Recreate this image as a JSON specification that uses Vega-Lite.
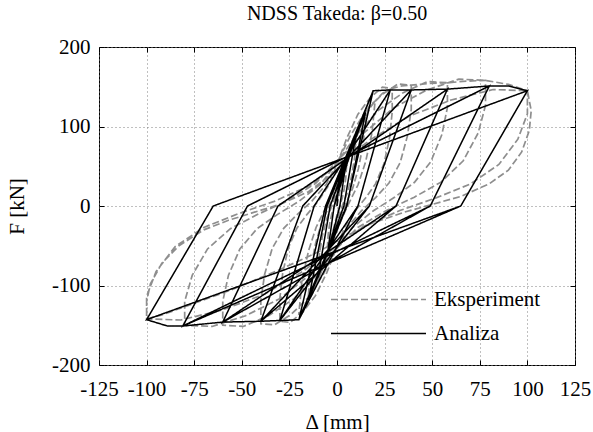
{
  "$schema": "https://vega.github.io/schema/vega-lite/v6.json",
  "width": 476,
  "height": 318,
  "autosize": "none",
  "padding": {"left": 99, "top": 47, "right": 18, "bottom": 67},
  "background": "white",
  "title": {"text": "NDSS Takeda: β=0.50", "font": "Times New Roman, Liberation Serif, DejaVu Serif, serif", "fontSize": 20, "fontWeight": "normal", "color": "black", "offset": 12, "anchor": "middle"},
  "config": {
    "view": {"stroke": "black", "strokeWidth": 1},
    "axis": {"labelFont": "Times New Roman, Liberation Serif, DejaVu Serif, serif", "labelFontSize": 21, "labelColor": "black", "labelOverlap": false, "labelFlush": false, "titleFont": "Times New Roman, Liberation Serif, DejaVu Serif, serif", "titleFontSize": 21, "titleFontWeight": "normal", "titleColor": "black", "domain": false, "tickColor": "black", "tickSize": -5, "gridColor": "#808080", "gridDash": [1, 3], "gridOpacity": 1},
    "legend": {"orient": "none", "legendX": 269, "legendY": 242, "padding": 0, "symbolType": "M-5,0L5,0", "symbolSize": 361, "symbolStrokeWidth": 1.6, "labelFont": "Times New Roman, Liberation Serif, DejaVu Serif, serif", "labelFontSize": 21, "labelColor": "black", "rowPadding": 12, "labelOffset": 45}
  },
  "datasets": {
    "exp": [
      {"x":0,"y":0},{"x":2.5,"y":30},{"x":5,"y":50},
      {"x":4.6,"y":35},{"x":3.75,"y":21},{"x":2.75,"y":10},{"x":1.65,"y":2},{"x":0.6,"y":-6},{"x":-0.5,"y":-16},{"x":-1.75,"y":-28},{"x":-3.1,"y":-40},{"x":-4.25,"y":-47.5},{"x":-5,"y":-50},
      {"x":-4.6,"y":-35},{"x":-3.75,"y":-21},{"x":-2.75,"y":-10},{"x":-1.65,"y":-2},{"x":-0.6,"y":6},{"x":0.5,"y":16},{"x":1.75,"y":28},{"x":3.1,"y":40},{"x":4.25,"y":47.5},{"x":5,"y":50},
      {"x":7.5,"y":70},{"x":10,"y":85},
      {"x":9.2,"y":59.5},{"x":7.5,"y":35.7},{"x":5.5,"y":17},{"x":3.3,"y":3.4},{"x":1.2,"y":-10.2},{"x":-1,"y":-27.2},{"x":-3.5,"y":-47.6},{"x":-6.2,"y":-68},{"x":-8.5,"y":-80.75},{"x":-10,"y":-85},
      {"x":-9.2,"y":-59.5},{"x":-7.5,"y":-35.7},{"x":-5.5,"y":-17},{"x":-3.3,"y":-3.4},{"x":-1.2,"y":10.2},{"x":1,"y":27.2},{"x":3.5,"y":47.6},{"x":6.2,"y":68},{"x":8.5,"y":80.75},{"x":10,"y":85},
      {"x":12.5,"y":100},{"x":15,"y":112},
      {"x":13.8,"y":78.4},{"x":11.25,"y":47},{"x":8.25,"y":22.4},{"x":4.95,"y":4.5},{"x":1.8,"y":-13.4},{"x":-1.5,"y":-35.8},{"x":-5.25,"y":-62.7},{"x":-9.3,"y":-89.6},{"x":-12.75,"y":-106.4},{"x":-15,"y":-112},
      {"x":-13.8,"y":-78.4},{"x":-11.25,"y":-47},{"x":-8.25,"y":-22.4},{"x":-4.95,"y":-4.5},{"x":-1.8,"y":13.4},{"x":1.5,"y":35.8},{"x":5.25,"y":62.7},{"x":9.3,"y":89.6},{"x":12.75,"y":106.4},{"x":15,"y":112},
      {"x":17.5,"y":124},{"x":20,"y":132},
      {"x":18.4,"y":92.4},{"x":15,"y":55.4},{"x":11,"y":26.4},{"x":6.6,"y":5.3},{"x":2.4,"y":-16.2},{"x":-2,"y":-43.2},{"x":-7,"y":-75.6},{"x":-12.4,"y":-108},{"x":-17,"y":-128},{"x":-20,"y":-135},
      {"x":-18.4,"y":-94.5},{"x":-15,"y":-56.7},{"x":-11,"y":-27},{"x":-6.6,"y":-5.4},{"x":-2.4,"y":15.8},{"x":2,"y":42.2},{"x":7,"y":73.9},{"x":12.4,"y":105.6},{"x":17,"y":125.4},{"x":20,"y":132},
      {"x":24,"y":142},{"x":29,"y":148},
      {"x":29,"y":118.4},{"x":27.6,"y":85.8},{"x":24.7,"y":53.3},{"x":20.3,"y":28.1},{"x":15.1,"y":10.4},{"x":9.6,"y":-5.8},{"x":4.1,"y":-26.1},{"x":-0.6,"y":-55.1},{"x":-5.4,"y":-84.1},{"x":-11.4,"y":-113.1},{"x":-18,"y":-133.4},{"x":-24.6,"y":-146.5},{"x":-30,"y":-145},
      {"x":-30,"y":-116},{"x":-28.5,"y":-84.1},{"x":-25.5,"y":-52.2},{"x":-21,"y":-27.6},{"x":-15.6,"y":-10.2},{"x":-9.9,"y":5.9},{"x":-4.2,"y":26.6},{"x":0.6,"y":56.2},{"x":5.2,"y":85.8},{"x":11,"y":115.4},{"x":17.4,"y":136.2},{"x":23.8,"y":149.5},{"x":29,"y":148},
      {"x":34,"y":151},{"x":39,"y":152},
      {"x":39,"y":121.6},{"x":37,"y":88.2},{"x":33.2,"y":54.7},{"x":27.3,"y":28.9},{"x":20.3,"y":10.6},{"x":12.9,"y":-5.9},{"x":5.5,"y":-26.6},{"x":-0.8,"y":-56.2},{"x":-7.2,"y":-85.8},{"x":-15.2,"y":-115.4},{"x":-24,"y":-136.2},{"x":-32.8,"y":-149.5},{"x":-40,"y":-148},
      {"x":-40,"y":-118.4},{"x":-38,"y":-85.8},{"x":-34,"y":-53.3},{"x":-28,"y":-28.1},{"x":-20.8,"y":-10.4},{"x":-13.2,"y":6.1},{"x":-5.6,"y":27.4},{"x":0.8,"y":57.8},{"x":7,"y":88.2},{"x":14.8,"y":118.6},{"x":23.4,"y":139.8},{"x":32,"y":153.5},{"x":39,"y":152},
      {"x":48,"y":154},{"x":58,"y":155},
      {"x":58,"y":124},{"x":55.1,"y":89.9},{"x":49.3,"y":55.8},{"x":40.6,"y":29.5},{"x":30.2,"y":10.9},{"x":19.1,"y":-6},{"x":8.1,"y":-27},{"x":-1.2,"y":-57},{"x":-10.8,"y":-87},{"x":-22.8,"y":-117},{"x":-36,"y":-138},{"x":-49.2,"y":-151.5},{"x":-60,"y":-150},
      {"x":-60,"y":-120},{"x":-57,"y":-87},{"x":-51,"y":-54},{"x":-42,"y":-28.5},{"x":-31.2,"y":-10.5},{"x":-19.8,"y":6.2},{"x":-8.4,"y":27.9},{"x":1.2,"y":58.9},{"x":10.4,"y":89.9},{"x":22,"y":120.9},{"x":34.8,"y":142.6},{"x":47.6,"y":156.6},{"x":58,"y":155},
      {"x":68,"y":157},{"x":78,"y":158},
      {"x":78,"y":126.4},{"x":74.1,"y":91.6},{"x":66.3,"y":56.9},{"x":54.6,"y":30},{"x":40.6,"y":11.1},{"x":25.7,"y":-6},{"x":10.9,"y":-27},{"x":-1.6,"y":-57},{"x":-14.4,"y":-87},{"x":-30.4,"y":-117},{"x":-48,"y":-138},{"x":-65.6,"y":-151.5},{"x":-80,"y":-150},
      {"x":-80,"y":-120},{"x":-76,"y":-87},{"x":-68,"y":-54},{"x":-56,"y":-28.5},{"x":-41.6,"y":-10.5},{"x":-26.4,"y":6.3},{"x":-11.2,"y":28.4},{"x":1.6,"y":60},{"x":14,"y":91.6},{"x":29.6,"y":123.2},{"x":46.8,"y":145.4},{"x":64,"y":159.6},{"x":78,"y":158},
      {"x":90,"y":153},{"x":100,"y":145},
      {"x":100,"y":116},{"x":95,"y":84.1},{"x":85,"y":52.2},{"x":70,"y":27.6},{"x":52,"y":10.2},{"x":33,"y":-5.7},{"x":14,"y":-25.6},{"x":-2,"y":-54},{"x":-18,"y":-82.4},{"x":-38,"y":-110.8},{"x":-60,"y":-130.6},{"x":-82,"y":-143.4},{"x":-100,"y":-142},
      {"x":-100,"y":-113.6},{"x":-95,"y":-82.4},{"x":-85,"y":-51.1},{"x":-70,"y":-27},{"x":-52,"y":-9.9},{"x":-33,"y":5.8},{"x":-14,"y":26.1},{"x":2,"y":55.1},{"x":18,"y":84.1},{"x":38,"y":113.1},{"x":60,"y":133.4},{"x":82,"y":146.5},{"x":100,"y":145},
      {"x":102,"y":120},{"x":101,"y":95},{"x":97,"y":68},{"x":90,"y":45},{"x":80,"y":28},{"x":65,"y":12},{"x":50,"y":2},{"x":35,"y":-8},{"x":18,"y":-22},{"x":3,"y":-40},{"x":-10,"y":-58},{"x":-30,"y":-80},{"x":-55,"y":-105},{"x":-78,"y":-125},{"x":-92,"y":-137},{"x":-100,"y":-142},
      {"x":-100,"y":-120},{"x":-98,"y":-98},{"x":-92,"y":-72},{"x":-83,"y":-50},{"x":-70,"y":-30},{"x":-57,"y":-18},{"x":-45,"y":-9},{"x":-30,"y":2},{"x":-15,"y":18},{"x":0,"y":45}
    ],
    "ana": [
      {"x":0,"y":0},{"x":1,"y":35},{"x":5,"y":60},{"x":1.5,"y":0},{"x":-5,"y":-60},{"x":-1.5,"y":0},{"x":5,"y":60},{"x":1.5,"y":0},{"x":-5,"y":-60},{"x":-1.5,"y":0},{"x":5,"y":60},{"x":1.5,"y":0},{"x":-5,"y":-60},{"x":-1.5,"y":0},
      {"x":10,"y":90},{"x":3.6,"y":0},{"x":-10,"y":-90},{"x":-3.6,"y":0},{"x":10,"y":90},{"x":3.6,"y":0},{"x":-10,"y":-90},{"x":-3.6,"y":0},{"x":10,"y":90},{"x":3.6,"y":0},{"x":-10,"y":-90},{"x":-3.6,"y":0},
      {"x":15,"y":118},{"x":5.2,"y":0},{"x":-15,"y":-118},{"x":-5.2,"y":0},{"x":15,"y":118},{"x":5.2,"y":0},{"x":-15,"y":-118},{"x":-5.2,"y":0},
      {"x":19,"y":145},{"x":5,"y":0},{"x":-20,"y":-143},{"x":-6,"y":0},{"x":19,"y":145},{"x":5,"y":0},{"x":-20,"y":-143},{"x":-6,"y":0},
      {"x":19,"y":145},{"x":28,"y":146},{"x":11,"y":0},{"x":-20,"y":-143},{"x":-30,"y":-144},{"x":-12,"y":0},{"x":28,"y":146},{"x":11,"y":0},{"x":-30,"y":-144},{"x":-12,"y":0},
      {"x":28,"y":146},{"x":39,"y":146},{"x":17,"y":0},{"x":-30,"y":-144},{"x":-40,"y":-145},{"x":-18,"y":0},{"x":39,"y":146},{"x":17,"y":0},{"x":-40,"y":-145},{"x":-18,"y":0},
      {"x":39,"y":146},{"x":58,"y":147},{"x":31,"y":0},{"x":-40,"y":-145},{"x":-60,"y":-146},{"x":-31,"y":0},{"x":58,"y":147},{"x":31,"y":0},{"x":-60,"y":-146},{"x":-31,"y":0},
      {"x":58,"y":147},{"x":80,"y":151},{"x":49,"y":0},{"x":-60,"y":-146},{"x":-81,"y":-151},{"x":-47,"y":0},{"x":80,"y":151},{"x":49,"y":0},{"x":-81,"y":-151},{"x":-47,"y":0},
      {"x":80,"y":151},{"x":90,"y":151},{"x":100,"y":145},{"x":65,"y":0},{"x":-81,"y":-151},{"x":-89,"y":-151},{"x":-100,"y":-143},{"x":-65,"y":0},{"x":100,"y":145},{"x":65,"y":0},{"x":-100,"y":-143},{"x":-65,"y":0}
    ]
  },
  "resolve": {"axis": {"x": "independent", "y": "independent"}},
  "layer": [
    {
      "data": {"name": "exp"},
      "mark": {"type": "line", "strokeWidth": 1.7, "clip": true},
      "encoding": {
        "x": {"field": "x", "type": "quantitative", "scale": {"domain": [-125, 125], "nice": false, "zero": false}, "axis": {"values": [-125, -100, -75, -50, -25, 0, 25, 50, 75, 100, 125], "labelExpr": "'' + datum.value", "labelPadding": 18, "title": "Δ [mm]", "titlePadding": 12}},
        "y": {"field": "y", "type": "quantitative", "scale": {"domain": [-200, 200], "nice": false, "zero": false}, "axis": {"values": [-200, -100, 0, 100, 200], "labelExpr": "'' + datum.value", "labelPadding": 14, "title": "F [kN]", "titlePadding": 24}},
        "order": {"value": null},
        "color": {"datum": "Eksperiment", "type": "nominal", "scale": {"domain": ["Eksperiment", "Analiza"], "range": ["#8e8e8e", "#000000"]}, "title": null},
        "strokeDash": {"datum": "Eksperiment", "type": "nominal", "scale": {"domain": ["Eksperiment", "Analiza"], "range": [[7, 3], [1, 0]]}, "title": null}
      }
    },
    {
      "data": {"name": "ana"},
      "mark": {"type": "line", "strokeWidth": 1.5, "clip": true},
      "encoding": {
        "x": {"field": "x", "type": "quantitative", "axis": null},
        "y": {"field": "y", "type": "quantitative", "axis": null},
        "order": {"value": null},
        "color": {"datum": "Analiza", "type": "nominal", "title": null},
        "strokeDash": {"datum": "Analiza", "type": "nominal", "title": null}
      }
    },
    {
      "data": {"name": "ana"},
      "mark": {"type": "point", "opacity": 0},
      "encoding": {
        "x": {"field": "x", "type": "quantitative", "axis": {"orient": "top", "values": [-125, -100, -75, -50, -25, 0, 25, 50, 75, 100, 125], "labels": false, "grid": false, "title": null}},
        "y": {"field": "y", "type": "quantitative", "axis": {"orient": "right", "values": [-200, -100, 0, 100, 200], "labels": false, "grid": false, "title": null}}
      }
    }
  ]
}
